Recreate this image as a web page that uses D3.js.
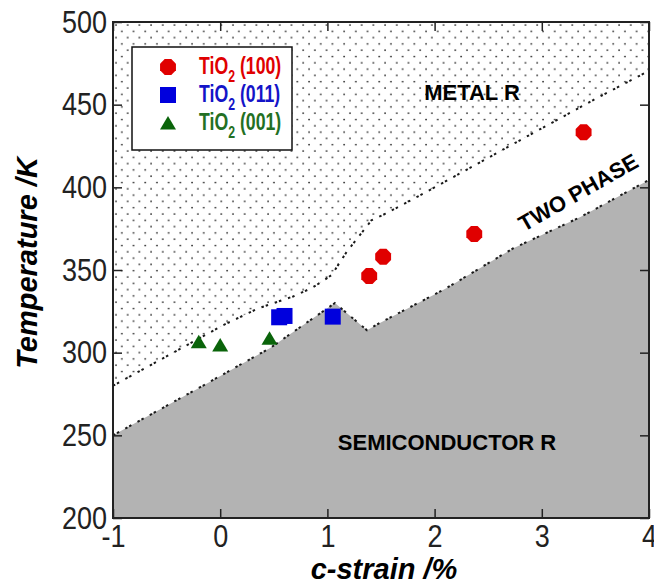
<!DOCTYPE html>
<html>
<head>
<meta charset="utf-8">
<script src="https://cdn.jsdelivr.net/npm/d3@7"></script>
<style>
body { margin: 0; background: #fff; }
svg { display: block; font-family: "Liberation Sans", Arial, sans-serif; }
</style>
</head>
<body>
<div id="chart"></div>
<script>
// axis ticks
var xTicks = [-1, 0, 1, 2, 3, 4];
var yTicks = [200, 250, 300, 350, 400, 450, 500];

// phase boundaries [c-strain %, T K]
var metalEdge = [[-1, 280], [0.03, 316.7], [0.355, 326.8], [0.68, 334], [0.85, 339], [0.95, 343],
    [1.04, 347], [1.18, 361], [1.41, 380], [1.55, 384.3], [1.9, 396.4], [2.8, 428.6], [3.48, 452.8], [4, 470.5]];
var semiEdge = [[-1, 250], [-0.19, 279], [0.47, 303], [1.07, 330], [1.37, 313.5], [1.49, 318],
    [2.11, 339], [2.73, 363], [3.36, 382], [4, 404.5]];

// measured points
var tio2_100 = [[1.39, 346.4], [1.52, 358], [2.37, 371.8], [3.39, 433.3]];
var tio2_011 = [[0.55, 321.4], [0.6, 322.2], [1.05, 321.8]];
var tio2_001 = [[-0.2, 306.6], [0, 304.6], [0.46, 308.7]];

var legendLabels = ["(100)", "(011)", "(001)"];

var W = 654, H = 585;
var svg = d3.select("#chart").append("svg")
    .attr("width", W)
    .attr("height", H);

var x = d3.scaleLinear().domain([-1, 4]).range([113, 649]);
var y = d3.scaleLinear().domain([200, 500]).range([518, 22]);

var line = d3.line()
    .x(function (d) { return x(d[0]); })
    .y(function (d) { return y(d[1]); });

// dot pattern for metal region
var pat = svg.append("defs").append("pattern")
    .attr("id", "dots")
    .attr("patternUnits", "userSpaceOnUse")
    .attr("x", 113).attr("y", 22)
    .attr("width", 11.7).attr("height", 12.6);
pat.append("circle").attr("cx", 3).attr("cy", 3).attr("r", 0.9).attr("fill", "#222");
pat.append("circle").attr("cx", 8.85).attr("cy", 9.3).attr("r", 0.9).attr("fill", "#222");

// regions
svg.append("path")
    .attr("d", line(metalEdge.concat([[4, 500], [-1, 500]])) + "Z")
    .attr("fill", "url(#dots)");
svg.append("path")
    .attr("d", line(semiEdge.concat([[4, 200], [-1, 200]])) + "Z")
    .attr("fill", "#b3b3b3");

// dashed boundary lines
[metalEdge, semiEdge].forEach(function (edge) {
    svg.append("path")
        .attr("d", line(edge))
        .attr("fill", "none")
        .attr("stroke", "#1a1a1a")
        .attr("stroke-width", 2)
        .attr("stroke-dasharray", "2.5,2,2.5,7");
});

// region labels
svg.append("text")
    .attr("x", 472).attr("y", 100)
    .attr("text-anchor", "middle")
    .style("font-size", "22px").style("font-weight", "bold")
    .text("METAL R");
svg.append("text")
    .attr("x", 447).attr("y", 450)
    .attr("text-anchor", "middle")
    .style("font-size", "22px").style("font-weight", "bold")
    .text("SEMICONDUCTOR R");
svg.append("text")
    .attr("transform", "translate(582,199) rotate(-29.6)")
    .attr("text-anchor", "middle")
    .style("font-size", "22px").style("font-weight", "bold")
    .text("TWO PHASE");

// marker shapes
function octagon(r) {
    var pts = d3.range(8).map(function (k) {
        var a = (22.5 + 45 * k) * Math.PI / 180;
        return [r * Math.cos(a), r * Math.sin(a)];
    });
    return "M" + pts.join("L") + "Z";
}
var squarePath = "M-8,-8H8V8H-8Z";
var trianglePath = "M0,-7L8,6.5L-8,6.5Z";

var series = [
    { data: tio2_100, path: octagon(8.6), color: "#e00000" },
    { data: tio2_011, path: squarePath, color: "#0000dd" },
    { data: tio2_001, path: trianglePath, color: "#0a640a" }
];

series.forEach(function (s) {
    svg.append("g").selectAll("path")
        .data(s.data)
        .enter().append("path")
        .attr("d", s.path)
        .attr("transform", function (d) { return "translate(" + x(d[0]) + "," + y(d[1]) + ")"; })
        .attr("fill", s.color);
});

// legend
var legend = svg.append("g");
legend.append("rect")
    .attr("x", 132).attr("y", 47)
    .attr("width", 160).attr("height", 103)
    .attr("fill", "#fff")
    .attr("stroke", "#111")
    .attr("stroke-width", 1.5);

var textColors = ["#e00000", "#1414c8", "#237023"];
series.forEach(function (s, i) {
    var ly = 67 + i * 28;
    legend.append("path")
        .attr("d", s.path)
        .attr("transform", "translate(168," + ly + ")")
        .attr("fill", s.color);
    var t = legend.append("text")
        .attr("transform", "translate(199," + (ly + 7) + ") scale(0.77,1.05)")
        .attr("fill", textColors[i])
        .style("font-size", "23px").style("font-weight", "bold");
    t.append("tspan").text("TiO");
    t.append("tspan").attr("dy", 8).style("font-size", "16px").text("2");
    t.append("tspan").attr("dy", -8).text(" " + legendLabels[i]);
});

// axes with inward ticks
var fmt = function (d) { return String(d); };
var axL = svg.append("g").attr("transform", "translate(113,0)")
    .call(d3.axisLeft(y).tickValues(yTicks).tickSize(-9).tickPadding(6).tickFormat(fmt));
var axB = svg.append("g").attr("transform", "translate(0,518)")
    .call(d3.axisBottom(x).tickValues(xTicks).tickSize(-9).tickPadding(6).tickFormat(fmt));
var axT = svg.append("g").attr("transform", "translate(0,22)")
    .call(d3.axisTop(x).tickValues(xTicks).tickSize(-9).tickFormat(""));
var axR = svg.append("g").attr("transform", "translate(649,0)")
    .call(d3.axisRight(y).tickValues(yTicks).tickSize(-9).tickFormat(""));

[axL, axB, axT, axR].forEach(function (a) {
    a.select(".domain").remove();
    a.selectAll("line").attr("stroke", "#222").attr("stroke-width", 1.5);
    a.selectAll("text")
        .attr("fill", "#222")
        .attr("transform", "scale(1,1.16)")
        .style("font-size", "27px")
        .style("font-family", "'Liberation Sans', Arial, sans-serif");
});

// frame
svg.append("rect")
    .attr("x", 113).attr("y", 22)
    .attr("width", 536).attr("height", 496)
    .attr("fill", "none")
    .attr("stroke", "#222")
    .attr("stroke-width", 2);

// axis titles
svg.append("text")
    .attr("x", 384).attr("y", 579)
    .attr("text-anchor", "middle")
    .style("font-size", "29px").style("font-weight", "bold").style("font-style", "italic")
    .text("c-strain /%");
svg.append("text")
    .attr("transform", "translate(37,263) rotate(-90)")
    .attr("text-anchor", "middle")
    .style("font-size", "29px").style("font-weight", "bold").style("font-style", "italic")
    .text("Temperature /K");
</script>
</body>
</html>
